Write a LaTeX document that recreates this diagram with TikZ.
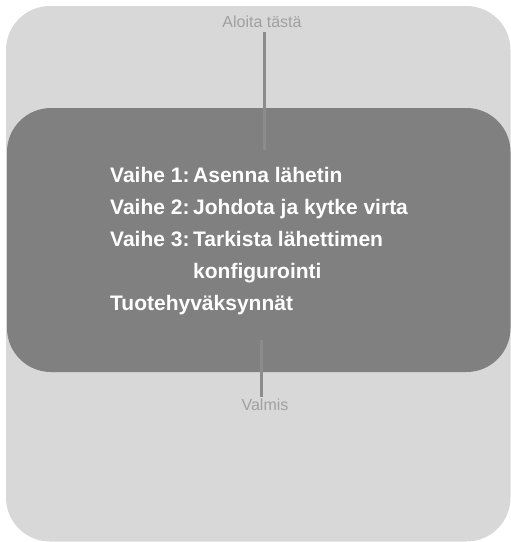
\documentclass[tikz,border=0pt]{standalone}
\usepackage{fontspec}
\setmainfont{Liberation Sans}
\definecolor{outerfill}{HTML}{D8D8D8}
\definecolor{innerfill}{HTML}{808080}
\definecolor{linegray}{HTML}{8C8C8C}
\definecolor{labelgray}{HTML}{A0A0A0}
\begin{document}
\begin{tikzpicture}[x=1pt,y=-1pt,
  panel/.style={rounded corners=44pt},
  smalllabel/.style={text=labelgray,font=\fontsize{16}{18}\selectfont,inner sep=0pt,anchor=base},
  steptext/.style={text=white,font=\bfseries\fontsize{21}{24}\selectfont,inner sep=0pt,anchor=base west},
  connector/.style={draw=linegray,line width=3pt}]
\useasboundingbox (0,0) rectangle (511,542);
\fill[outerfill,panel] (6,6) rectangle (510.5,541.5);
\fill[innerfill,panel] (7,108) rectangle (510.5,372);
\node[smalllabel] (start) at (262,27) {Aloita tästä};
\node[smalllabel] (done) at (265,410) {Valmis};
\coordinate (topin) at (264,150);
\coordinate (botin) at (261,340);
\draw[connector] (264,32) -- (topin);
\draw[connector] (botin) -- (261,397);
\node[steptext] (v1) at (110,182) {Vaihe 1:};
\node[steptext] (t1) at (193,182) {Asenna lähetin};
\node[steptext] (v2) at (110,214) {Vaihe 2:};
\node[steptext] (t2) at (193,214) {Johdota ja kytke virta};
\node[steptext] (v3) at (110,246) {Vaihe 3:};
\node[steptext] (t3) at (193,246) {Tarkista lähettimen};
\node[steptext] (t3b) at (193,278) {konfigurointi};
\node[steptext] (t4) at (110,310) {Tuotehyväksynnät};
\end{tikzpicture}
\end{document}
